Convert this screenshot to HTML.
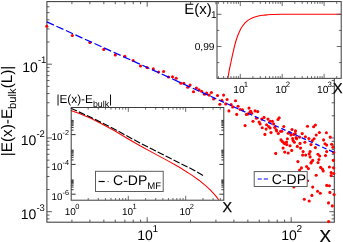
<!DOCTYPE html>
<html><head><meta charset="utf-8"><title>plot</title>
<style>html,body{margin:0;padding:0;background:#fff;}body{width:343px;height:242px;overflow:hidden;font-family:"Liberation Sans",sans-serif;}svg{display:block;}svg{will-change:transform;text-rendering:geometricPrecision}</style>
</head><body>
<svg width="343" height="242" viewBox="0 0 343 242" font-family="Liberation Sans, sans-serif">
<rect width="343" height="242" fill="#fff"/>
<path d="M71.91 222.2v-2.6M71.91 1.6v2.6M89.90 222.2v-2.6M89.90 1.6v2.6M103.85 222.2v-2.6M103.85 1.6v2.6M115.25 222.2v-2.6M115.25 1.6v2.6M124.89 222.2v-2.6M124.89 1.6v2.6M133.24 222.2v-2.6M133.24 1.6v2.6M140.61 222.2v-2.6M140.61 1.6v2.6M147.20 222.2v-5M147.20 1.6v5M190.55 222.2v-2.6M190.55 1.6v2.6M215.91 222.2v-2.6M215.91 1.6v2.6M233.90 222.2v-2.6M233.90 1.6v2.6M247.85 222.2v-2.6M247.85 1.6v2.6M259.25 222.2v-2.6M259.25 1.6v2.6M268.89 222.2v-2.6M268.89 1.6v2.6M277.24 222.2v-2.6M277.24 1.6v2.6M284.61 222.2v-2.6M284.61 1.6v2.6M291.20 222.2v-5M291.20 1.6v5" stroke="#4a4a4a" stroke-width="0.9" fill="none"/>
<path d="M46.9 218.85h2.6M334.3 218.85h-2.6M46.9 215.07h2.6M334.3 215.07h-2.6M46.9 211.70h5M334.3 211.70h-5M46.9 189.50h2.6M334.3 189.50h-2.6M46.9 176.51h2.6M334.3 176.51h-2.6M46.9 167.30h2.6M334.3 167.30h-2.6M46.9 160.15h2.6M334.3 160.15h-2.6M46.9 154.31h2.6M334.3 154.31h-2.6M46.9 149.37h2.6M334.3 149.37h-2.6M46.9 145.10h2.6M334.3 145.10h-2.6M46.9 141.32h2.6M334.3 141.32h-2.6M46.9 137.95h5M334.3 137.95h-5M46.9 115.75h2.6M334.3 115.75h-2.6M46.9 102.76h2.6M334.3 102.76h-2.6M46.9 93.55h2.6M334.3 93.55h-2.6M46.9 86.40h2.6M334.3 86.40h-2.6M46.9 80.56h2.6M334.3 80.56h-2.6M46.9 75.62h2.6M334.3 75.62h-2.6M46.9 71.35h2.6M334.3 71.35h-2.6M46.9 67.57h2.6M334.3 67.57h-2.6M46.9 64.20h5M334.3 64.20h-5M46.9 42.00h2.6M334.3 42.00h-2.6M46.9 29.01h2.6M334.3 29.01h-2.6M46.9 19.80h2.6M334.3 19.80h-2.6M46.9 12.65h2.6M334.3 12.65h-2.6M46.9 6.81h2.6M334.3 6.81h-2.6" stroke="#4a4a4a" stroke-width="0.9" fill="none"/>
<rect x="46.9" y="1.6" width="287.40000000000003" height="220.6" fill="none" stroke="#3c3c3c" stroke-width="1.05"/>
<g fill="#f00">
<circle cx="46.8" cy="26.3" r="1.55"/>
<circle cx="72.3" cy="35.5" r="1.55"/>
<circle cx="89.9" cy="42.5" r="1.55"/>
<circle cx="103.8" cy="49.4" r="1.55"/>
<circle cx="115.3" cy="54.9" r="1.55"/>
<circle cx="124.8" cy="56.2" r="1.55"/>
<circle cx="133.1" cy="60.5" r="1.55"/>
<circle cx="140.5" cy="66.0" r="1.55"/>
<circle cx="147.0" cy="67.6" r="1.55"/>
<circle cx="153.3" cy="68.9" r="1.55"/>
<circle cx="158.6" cy="72.0" r="1.55"/>
<circle cx="163.6" cy="71.5" r="1.55"/>
<circle cx="168.5" cy="77.0" r="1.55"/>
<circle cx="172.5" cy="76.7" r="1.55"/>
<circle cx="176.2" cy="78.3" r="1.55"/>
<circle cx="180.9" cy="83.3" r="1.55"/>
<circle cx="183.8" cy="83.3" r="1.55"/>
<circle cx="187.7" cy="87.2" r="1.55"/>
<circle cx="190.1" cy="85.1" r="1.55"/>
<circle cx="193.5" cy="91.7" r="1.55"/>
<circle cx="196.4" cy="88.0" r="1.55"/>
<circle cx="199.0" cy="89.9" r="1.55"/>
<circle cx="201.6" cy="91.2" r="1.55"/>
<circle cx="204.5" cy="94.3" r="1.55"/>
<circle cx="206.6" cy="93.0" r="1.55"/>
<circle cx="209.2" cy="95.1" r="1.55"/>
<circle cx="211.4" cy="92.5" r="1.55"/>
<circle cx="213.6" cy="99.0" r="1.55"/>
<circle cx="217.5" cy="95.5" r="1.55"/>
<circle cx="219.8" cy="104.2" r="1.55"/>
<circle cx="221.9" cy="100.4" r="1.55"/>
<circle cx="223.6" cy="95.1" r="1.55"/>
<circle cx="225.7" cy="103.9" r="1.55"/>
<circle cx="227.1" cy="99.5" r="1.55"/>
<circle cx="228.9" cy="110.9" r="1.55"/>
<circle cx="231.1" cy="104.6" r="1.55"/>
<circle cx="232.7" cy="106.9" r="1.55"/>
<circle cx="235.5" cy="100.7" r="1.55"/>
<circle cx="236.7" cy="114.4" r="1.55"/>
<circle cx="238.1" cy="106.3" r="1.55"/>
<circle cx="240.2" cy="109.5" r="1.55"/>
<circle cx="242.5" cy="109.8" r="1.55"/>
<circle cx="246.4" cy="114.4" r="1.55"/>
<circle cx="248.1" cy="113.9" r="1.55"/>
<circle cx="249.0" cy="108.1" r="1.55"/>
<circle cx="250.7" cy="111.2" r="1.55"/>
<circle cx="251.6" cy="113.3" r="1.55"/>
<circle cx="255.1" cy="110.9" r="1.55"/>
<circle cx="257.7" cy="111.6" r="1.55"/>
<circle cx="256.5" cy="118.2" r="1.55"/>
<circle cx="245.1" cy="125.6" r="1.55"/>
<circle cx="250.0" cy="112.1" r="1.55"/>
<circle cx="253.0" cy="121.2" r="1.55"/>
<circle cx="259.1" cy="122.1" r="1.55"/>
<circle cx="260.1" cy="123.9" r="1.55"/>
<circle cx="261.7" cy="119.1" r="1.55"/>
<circle cx="262.2" cy="127.7" r="1.55"/>
<circle cx="264.0" cy="117.4" r="1.55"/>
<circle cx="264.9" cy="134.4" r="1.55"/>
<circle cx="266.1" cy="129.1" r="1.55"/>
<circle cx="266.6" cy="124.7" r="1.55"/>
<circle cx="268.0" cy="119.1" r="1.55"/>
<circle cx="268.7" cy="126.5" r="1.55"/>
<circle cx="270.1" cy="121.2" r="1.55"/>
<circle cx="271.0" cy="132.6" r="1.55"/>
<circle cx="272.4" cy="121.2" r="1.55"/>
<circle cx="273.6" cy="123.9" r="1.55"/>
<circle cx="274.8" cy="127.4" r="1.55"/>
<circle cx="276.6" cy="130.9" r="1.55"/>
<circle cx="278.0" cy="119.5" r="1.55"/>
<circle cx="279.2" cy="117.7" r="1.55"/>
<circle cx="278.3" cy="133.5" r="1.55"/>
<circle cx="280.6" cy="131.2" r="1.55"/>
<circle cx="281.8" cy="131.2" r="1.55"/>
<circle cx="283.8" cy="126.5" r="1.55"/>
<circle cx="289.7" cy="132.6" r="1.55"/>
<circle cx="292.0" cy="129.5" r="1.55"/>
<circle cx="293.7" cy="134.4" r="1.55"/>
<circle cx="295.5" cy="130.9" r="1.55"/>
<circle cx="288.2" cy="133.2" r="1.55"/>
<circle cx="295.2" cy="133.6" r="1.55"/>
<circle cx="290.9" cy="135.0" r="1.55"/>
<circle cx="287.4" cy="138.8" r="1.55"/>
<circle cx="293.1" cy="140.6" r="1.55"/>
<circle cx="296.6" cy="138.8" r="1.55"/>
<circle cx="299.6" cy="137.1" r="1.55"/>
<circle cx="302.2" cy="133.6" r="1.55"/>
<circle cx="305.4" cy="136.7" r="1.55"/>
<circle cx="308.9" cy="138.5" r="1.55"/>
<circle cx="307.5" cy="126.2" r="1.55"/>
<circle cx="313.6" cy="126.8" r="1.55"/>
<circle cx="315.4" cy="125.0" r="1.55"/>
<circle cx="314.1" cy="138.8" r="1.55"/>
<circle cx="316.2" cy="135.0" r="1.55"/>
<circle cx="319.4" cy="132.5" r="1.55"/>
<circle cx="323.6" cy="139.9" r="1.55"/>
<circle cx="326.4" cy="132.7" r="1.55"/>
<circle cx="330.2" cy="137.1" r="1.55"/>
<circle cx="312.4" cy="140.6" r="1.55"/>
<circle cx="292.6" cy="138.5" r="1.55"/>
<circle cx="296.1" cy="137.6" r="1.55"/>
<circle cx="286.5" cy="142.0" r="1.55"/>
<circle cx="283.9" cy="142.9" r="1.55"/>
<circle cx="286.8" cy="144.6" r="1.55"/>
<circle cx="290.0" cy="145.8" r="1.55"/>
<circle cx="294.4" cy="142.3" r="1.55"/>
<circle cx="300.0" cy="143.4" r="1.55"/>
<circle cx="297.3" cy="146.4" r="1.55"/>
<circle cx="300.5" cy="148.1" r="1.55"/>
<circle cx="291.7" cy="150.4" r="1.55"/>
<circle cx="284.7" cy="152.1" r="1.55"/>
<circle cx="288.2" cy="153.0" r="1.55"/>
<circle cx="303.1" cy="151.6" r="1.55"/>
<circle cx="302.6" cy="155.1" r="1.55"/>
<circle cx="305.7" cy="155.1" r="1.55"/>
<circle cx="297.9" cy="161.6" r="1.55"/>
<circle cx="301.4" cy="167.9" r="1.55"/>
<circle cx="299.6" cy="170.0" r="1.55"/>
<circle cx="306.6" cy="166.5" r="1.55"/>
<circle cx="308.4" cy="168.6" r="1.55"/>
<circle cx="311.0" cy="163.0" r="1.55"/>
<circle cx="312.7" cy="160.4" r="1.55"/>
<circle cx="310.1" cy="156.9" r="1.55"/>
<circle cx="310.1" cy="151.6" r="1.55"/>
<circle cx="309.2" cy="153.9" r="1.55"/>
<circle cx="304.9" cy="142.3" r="1.55"/>
<circle cx="311.0" cy="144.6" r="1.55"/>
<circle cx="315.4" cy="147.6" r="1.55"/>
<circle cx="318.0" cy="154.2" r="1.55"/>
<circle cx="319.7" cy="156.0" r="1.55"/>
<circle cx="318.9" cy="159.5" r="1.55"/>
<circle cx="318.0" cy="162.6" r="1.55"/>
<circle cx="320.6" cy="167.4" r="1.55"/>
<circle cx="322.4" cy="169.1" r="1.55"/>
<circle cx="323.2" cy="170.9" r="1.55"/>
<circle cx="316.2" cy="175.2" r="1.55"/>
<circle cx="325.0" cy="143.7" r="1.55"/>
<circle cx="326.7" cy="145.1" r="1.55"/>
<circle cx="326.7" cy="151.6" r="1.55"/>
<circle cx="325.5" cy="155.6" r="1.55"/>
<circle cx="331.6" cy="144.3" r="1.55"/>
<circle cx="332.9" cy="147.2" r="1.55"/>
<circle cx="333.7" cy="152.5" r="1.55"/>
<circle cx="333.4" cy="160.4" r="1.55"/>
<circle cx="329.4" cy="167.0" r="1.55"/>
<circle cx="333.7" cy="167.9" r="1.55"/>
<circle cx="331.1" cy="172.6" r="1.55"/>
<circle cx="333.7" cy="173.5" r="1.55"/>
<circle cx="331.1" cy="175.6" r="1.55"/>
<circle cx="307.5" cy="180.8" r="1.55"/>
<circle cx="293.8" cy="187.0" r="1.55"/>
<circle cx="312.7" cy="187.1" r="1.55"/>
<circle cx="326.7" cy="185.4" r="1.55"/>
<circle cx="329.4" cy="185.7" r="1.55"/>
<circle cx="317.6" cy="191.3" r="1.55"/>
<circle cx="320.3" cy="193.3" r="1.55"/>
<circle cx="329.9" cy="192.4" r="1.55"/>
<circle cx="334.1" cy="194.5" r="1.55"/>
<circle cx="311.9" cy="195.4" r="1.55"/>
<circle cx="304.3" cy="199.2" r="1.55"/>
<circle cx="309.2" cy="201.0" r="1.55"/>
<circle cx="328.5" cy="202.9" r="1.55"/>
<circle cx="332.3" cy="205.9" r="1.55"/>
<circle cx="328.6" cy="221.6" r="1.55"/>
<circle cx="311.3" cy="162.0" r="1.55"/>
<circle cx="270.1" cy="128.0" r="1.55"/>
<circle cx="276.2" cy="129.7" r="1.55"/>
<circle cx="281.0" cy="139.9" r="1.55"/>
<circle cx="282.4" cy="141.6" r="1.55"/>
<circle cx="283.1" cy="148.1" r="1.55"/>
<circle cx="275.7" cy="153.4" r="1.55"/>
<circle cx="285.0" cy="143.7" r="1.55"/>
</g>
<path d="M46.90 21.90L53.90 25.08M56.40 26.22L63.41 29.40M65.91 30.54L72.93 33.73M75.43 34.87L82.46 38.06M84.96 39.20L91.99 42.39M94.49 43.53L101.54 46.73M104.04 47.87L111.09 51.08M113.59 52.21L120.66 55.42M123.16 56.56L130.23 59.77M132.73 60.91L139.82 64.13M142.32 65.27L149.41 68.49M151.91 69.63L159.14 72.91M161.64 74.05L169.56 77.65M172.06 78.78L180.38 82.57M182.88 83.70L190.29 87.07M192.79 88.21L199.43 91.23M201.93 92.36L208.08 95.16M210.58 96.29L216.25 98.87M218.75 100.01L224.03 102.41M226.53 103.54L231.44 105.77M233.94 106.91L238.49 108.98M240.99 110.11L245.39 112.11M247.89 113.25L252.19 115.20M254.69 116.34L258.87 118.24M261.37 119.38L265.48 121.24M267.98 122.38L272.12 124.26M274.62 125.40L278.80 127.30M281.30 128.43L285.51 130.35M288.01 131.49L292.26 133.42M294.76 134.55L299.05 136.50M301.55 137.64L305.87 139.60M308.37 140.74L312.73 142.72M315.23 143.86L319.63 145.86M322.13 146.99L326.56 149.01M329.06 150.14L333.53 152.18" stroke="#00f" stroke-width="1.25" fill="none"/>
<text x="22.3" y="71.5" font-size="14">10<tspan font-size="9.5" dy="-8.3" dx="0">-1</tspan></text>
<text x="20.8" y="145.25" font-size="14">10<tspan font-size="9.5" dy="-8.3" dx="0">-2</tspan></text>
<text x="20.8" y="219.0" font-size="14">10<tspan font-size="9.5" dy="-8.3" dx="0">-3</tspan></text>
<text x="137.29999999999998" y="240.2" font-size="14">10<tspan font-size="10" dy="-8" dx="-0.5">1</tspan></text>
<text x="281.3" y="240.2" font-size="14">10<tspan font-size="10" dy="-8" dx="-0.5">2</tspan></text>
<text x="319.6" y="241.6" font-size="17.3" stroke="#000" stroke-width="0.25">X</text>
<text transform="translate(12.1,156.2) rotate(-90)" font-size="15.3">|E(x)-E<tspan font-size="11.2" dy="3.6">bulk</tspan><tspan font-size="15.3" dy="-3.6">(L)|</tspan></text>
<rect x="254.2" y="171.6" width="53" height="14.9" fill="#fff" stroke="#555" stroke-width="0.95"/>
<path d="M257.7 179h4M263.8 179h4.1" stroke="#00f" stroke-width="1.1"/>
<text x="271.8" y="184.1" font-size="14">C-DP</text>
<rect x="217.0" y="1.6" width="124.19999999999999" height="76.75" fill="#fff"/>
<path d="M227.9 78C228.17 76.53 228.98 71.87 229.5 69.2C230.02 66.53 230.52 64.30 231 62C231.48 59.70 231.92 57.60 232.4 55.4C232.88 53.20 233.41 50.87 233.9 48.8C234.39 46.73 234.90 44.63 235.35 43C235.80 41.37 236.16 40.33 236.6 39.0C237.04 37.67 237.40 36.52 238 35C238.60 33.48 239.47 31.37 240.2 29.9C240.93 28.43 241.55 27.42 242.4 26.2C243.25 24.98 244.33 23.62 245.3 22.6C246.27 21.58 247.22 20.80 248.2 20.1C249.18 19.40 250.10 18.92 251.2 18.4C252.30 17.88 253.60 17.40 254.8 17C256.00 16.60 257.07 16.28 258.4 16C259.73 15.72 261.33 15.49 262.8 15.3C264.27 15.11 265.67 14.97 267.2 14.85C268.73 14.72 269.53 14.64 272 14.55C274.47 14.46 277.33 14.35 282 14.3C286.67 14.25 290.17 14.27 300 14.25C309.83 14.23 334.17 14.21 341 14.2" fill="none" stroke="#f00" stroke-width="1.1" stroke-linejoin="round"/>
<path d="M218.39 78.35v-2.3M218.39 1.6v2.3M223.63 78.35v-2.3M223.63 1.6v2.3M227.69 78.35v-2.3M227.69 1.6v2.3M231.00 78.35v-2.3M231.00 1.6v2.3M233.81 78.35v-2.3M233.81 1.6v2.3M236.24 78.35v-2.3M236.24 1.6v2.3M238.38 78.35v-2.3M238.38 1.6v2.3M240.30 78.35v-4.5M240.30 1.6v4.5M252.91 78.35v-2.3M252.91 1.6v2.3M260.29 78.35v-2.3M260.29 1.6v2.3M265.53 78.35v-2.3M265.53 1.6v2.3M269.59 78.35v-2.3M269.59 1.6v2.3M272.90 78.35v-2.3M272.90 1.6v2.3M275.71 78.35v-2.3M275.71 1.6v2.3M278.14 78.35v-2.3M278.14 1.6v2.3M280.28 78.35v-2.3M280.28 1.6v2.3M282.20 78.35v-4.5M282.20 1.6v4.5M294.81 78.35v-2.3M294.81 1.6v2.3M302.19 78.35v-2.3M302.19 1.6v2.3M307.43 78.35v-2.3M307.43 1.6v2.3M311.49 78.35v-2.3M311.49 1.6v2.3M314.80 78.35v-2.3M314.80 1.6v2.3M317.61 78.35v-2.3M317.61 1.6v2.3M320.04 78.35v-2.3M320.04 1.6v2.3M322.18 78.35v-2.3M322.18 1.6v2.3M324.10 78.35v-4.5M324.10 1.6v4.5M336.71 78.35v-2.3M336.71 1.6v2.3" stroke="#4a4a4a" stroke-width="0.8" fill="none"/>
<path d="M217.0 14.30h4.5M341.2 14.30h-4.5M217.0 30.40h2.3M341.2 30.40h-2.3M217.0 46.50h4.5M341.2 46.50h-4.5M217.0 62.60h2.3M341.2 62.60h-2.3" stroke="#4a4a4a" stroke-width="0.8" fill="none"/>
<rect x="217.0" y="1.6" width="124.19999999999999" height="76.75" fill="none" stroke="#3c3c3c" stroke-width="1.0"/>
<text x="184.3" y="14.3" font-size="15">E(x)</text>
<text x="210.9" y="17.9" font-size="10">1</text>
<text x="194.7" y="49.7" font-size="10.2">0,99</text>
<text x="233.3" y="92.8" font-size="10.3">10<tspan font-size="7.8" dy="-5.6" dx="-1.0">1</tspan></text>
<text x="275.2" y="92.8" font-size="10.3">10<tspan font-size="7.8" dy="-5.6" dx="-1.0">2</tspan></text>
<text x="317.1" y="92.8" font-size="10.3">10<tspan font-size="7.8" dy="-5.6" dx="-1.0">3</tspan></text>
<text x="333.0" y="93.1" font-size="14.3" stroke="#000" stroke-width="0.25">X</text>
<rect x="56" y="92" width="57" height="15.5" fill="#fff"/>
<rect x="71.2" y="107.5" width="152.60000000000002" height="92.69999999999999" fill="#fff"/>
<polyline points="70.8,110.5 80,113.8 91.3,118.5 102,124 114.6,130.8 127,138.2 140,145.8 153.1,152.9 166.2,159.9 179.4,167.3 192.5,175.6 199,180.2 205.6,185.6 210,189.6 213.5,193.3 216.3,196.6 218.7,199.8" fill="none" stroke="#f00" stroke-width="1.05" stroke-linejoin="round"/>
<polyline points="70.8,108.2 91.3,117.5 114.6,129.2 140,143.1 166.2,156.3 192.5,169.4 203,175.4" fill="none" stroke="#000" stroke-width="1.15" stroke-dasharray="6.8 2.05"/>
<path d="M88.18 200.2v-2.2M88.18 107.5v2.2M98.29 200.2v-2.2M98.29 107.5v2.2M105.46 200.2v-2.2M105.46 107.5v2.2M111.02 200.2v-2.2M111.02 107.5v2.2M115.57 200.2v-2.2M115.57 107.5v2.2M119.41 200.2v-2.2M119.41 107.5v2.2M122.74 200.2v-2.2M122.74 107.5v2.2M125.67 200.2v-2.2M125.67 107.5v2.2M128.30 200.2v-4.4M128.30 107.5v4.4M145.58 200.2v-2.2M145.58 107.5v2.2M155.69 200.2v-2.2M155.69 107.5v2.2M162.86 200.2v-2.2M162.86 107.5v2.2M168.42 200.2v-2.2M168.42 107.5v2.2M172.97 200.2v-2.2M172.97 107.5v2.2M176.81 200.2v-2.2M176.81 107.5v2.2M180.14 200.2v-2.2M180.14 107.5v2.2M183.07 200.2v-2.2M183.07 107.5v2.2M185.70 200.2v-4.4M185.70 107.5v4.4M202.98 200.2v-2.2M202.98 107.5v2.2M213.09 200.2v-2.2M213.09 107.5v2.2M220.26 200.2v-2.2M220.26 107.5v2.2" stroke="#4a4a4a" stroke-width="0.8" fill="none"/>
<path d="M71.2 134.60h4.4M223.8 134.60h-4.4M71.2 130.11h2.4M223.8 130.11h-2.4M71.2 127.49h2.4M223.8 127.49h-2.4M71.2 125.63h2.4M223.8 125.63h-2.4M71.2 124.19h2.4M223.8 124.19h-2.4M71.2 123.01h2.4M223.8 123.01h-2.4M71.2 122.01h2.4M223.8 122.01h-2.4M71.2 121.14h2.4M223.8 121.14h-2.4M71.2 120.38h2.4M223.8 120.38h-2.4M71.2 164.40h4.4M223.8 164.40h-4.4M71.2 159.91h2.4M223.8 159.91h-2.4M71.2 157.29h2.4M223.8 157.29h-2.4M71.2 155.43h2.4M223.8 155.43h-2.4M71.2 153.99h2.4M223.8 153.99h-2.4M71.2 152.81h2.4M223.8 152.81h-2.4M71.2 151.81h2.4M223.8 151.81h-2.4M71.2 150.94h2.4M223.8 150.94h-2.4M71.2 150.18h2.4M223.8 150.18h-2.4M71.2 194.20h4.4M223.8 194.20h-4.4M71.2 189.71h2.4M223.8 189.71h-2.4M71.2 187.09h2.4M223.8 187.09h-2.4M71.2 185.23h2.4M223.8 185.23h-2.4M71.2 183.79h2.4M223.8 183.79h-2.4M71.2 182.61h2.4M223.8 182.61h-2.4M71.2 181.61h2.4M223.8 181.61h-2.4M71.2 180.74h2.4M223.8 180.74h-2.4M71.2 179.98h2.4M223.8 179.98h-2.4" stroke="#333" stroke-width="1.0" fill="none"/>
<rect x="71.2" y="107.5" width="152.60000000000002" height="92.69999999999999" fill="none" stroke="#3c3c3c" stroke-width="1.0"/>
<text x="51.6" y="140.4" font-size="9.8">10<tspan font-size="7.2" dy="-5.5" dx="0">-2</tspan></text>
<text x="51.6" y="170.20000000000002" font-size="9.8">10<tspan font-size="7.2" dy="-5.5" dx="0">-4</tspan></text>
<text x="51.6" y="200.0" font-size="9.8">10<tspan font-size="7.2" dy="-5.5" dx="0">-6</tspan></text>
<text x="64.7" y="214.6" font-size="10">10<tspan font-size="7.5" dy="-5.8" dx="-0.7">0</tspan></text>
<text x="122.00000000000001" y="214.6" font-size="10">10<tspan font-size="7.5" dy="-5.8" dx="-0.7">1</tspan></text>
<text x="179.39999999999998" y="214.6" font-size="10">10<tspan font-size="7.5" dy="-5.8" dx="-0.7">2</tspan></text>
<text x="222.5" y="211.7" font-size="14.3" stroke="#000" stroke-width="0.25">X</text>
<text x="56.4" y="102.8" font-size="11.8">|E(x)-E<tspan font-size="8.8" dy="4.4">bulk</tspan><tspan font-size="11.8" dy="-4.4">|</tspan></text>
<rect x="95.5" y="171.3" width="67.7" height="20.2" fill="#fff" stroke="#555" stroke-width="0.95"/>
<path d="M98.6 181.5h6.1" stroke="#000" stroke-width="1.2"/><path d="M107.5 181.5h1.2" stroke="#555" stroke-width="1.1"/>
<text x="113.1" y="184.8" font-size="14">C-DP<tspan font-size="9.6" dy="4">MF</tspan></text>
</svg>
</body></html>
